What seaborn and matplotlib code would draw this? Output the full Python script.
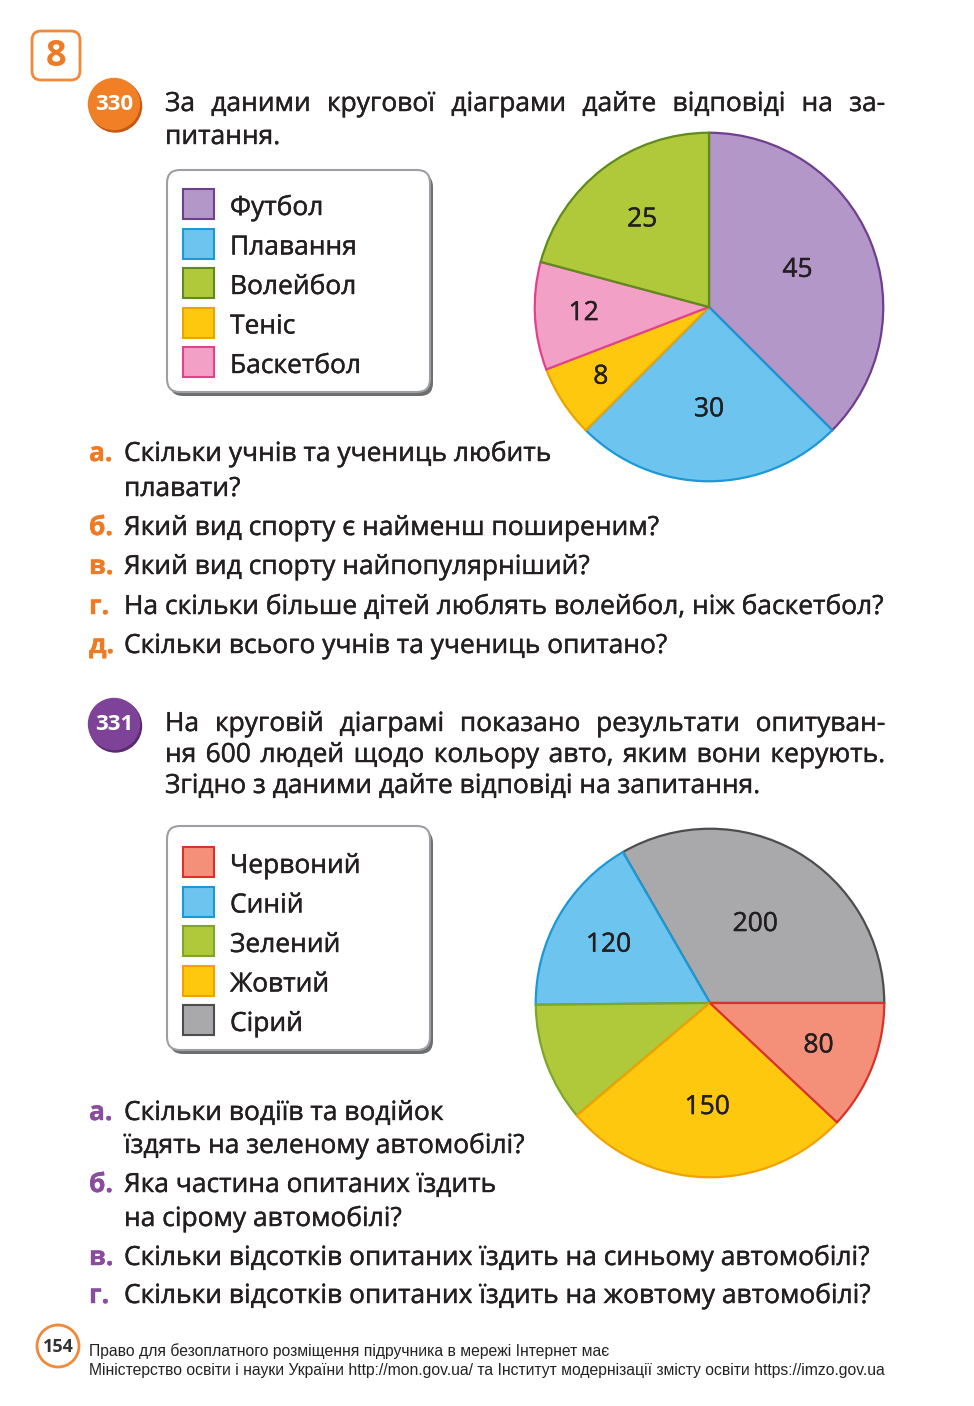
# Сторінка підручника: дві кругові діаграми (задачі 330 і 331)
import matplotlib
matplotlib.use("Agg")
import matplotlib.pyplot as plt
import matplotlib.patheffects as pe
from matplotlib.patches import FancyBboxPatch, Circle, Rectangle
import numpy as np
import seaborn as sns

sns.set_theme(style="white")
plt.rcParams['font.family'] = ['Open Sans', 'DejaVu Sans']

# Задача 330 - улюблений вид спорту
sports = ['Футбол', 'Плавання', 'Волейбол', 'Теніс', 'Баскетбол']
sport_counts = [45, 30, 25, 8, 12]
sport_colors = ['#b497c9', '#6dc4ee', '#afc93b', '#fdc80e', '#f2a0c6']
sport_edges = ['#6e3f8e', '#1c98d6', '#5f8a1c', '#e9a400', '#e2418c']
# порядок секторів на діаграмі (за годинниковою стрілкою від верху)
sport_pie_order = ['Футбол', 'Плавання', 'Теніс', 'Баскетбол', 'Волейбол']

# Задача 331 - колір авто (600 людей)
cars = ['Червоний', 'Синій', 'Зелений', 'Жовтий', 'Сірий']
car_labels = ['80', '120', '', '150', '200']
# розмір секторів так, як вони намальовані (із 600)
car_shares = [72, 101, 66, 161, 200]
car_colors = ['#f4907a', '#6dc4ee', '#afc93b', '#fdc80e', '#a9a9ab']
car_edges = ['#d8322a', '#1c98d6', '#7fa52a', '#f2a200', '#4d4d4f']
# проти годинникової стрілки від горизонталі праворуч
car_pie_order = ['Сірий', 'Синій', 'Зелений', 'Жовтий', 'Червоний']

text_color = '#231f20'
orange = '#ee7a24'
purple = '#8a4c9d'
body_size = 19
bold_fx = [pe.withStroke(linewidth=0.3, foreground=text_color)]

W, H = 974, 1406
fig = plt.figure(figsize=(W / 100, H / 100), dpi=100)
fig.patch.set_facecolor('white')
page = fig.add_axes([0, 0, 1, 1])
page.set_xlim(0, W)
page.set_ylim(H, 0)
page.axis('off')
renderer = fig.canvas.get_renderer()


def txt(x, y, s, color=text_color, size=body_size, **kw):
    t = page.text(x, y, s, color=color, fontsize=size, va='baseline', **kw)
    t.set_path_effects([pe.withStroke(linewidth=0.3, foreground=color)])
    return t


def justify(x0, x1, y, line):
    words = line.split()
    items = [txt(0, y, w) for w in words]
    widths = [t.get_window_extent(renderer).width for t in items]
    gap = (x1 - x0 - sum(widths)) / (len(words) - 1)
    x = x0
    for t, w in zip(items, widths):
        t.set_x(x)
        x += w + gap


def badge(cx, cy, label, color, shade):
    page.add_patch(Circle((cx + 1.5, cy + 2), 26, color=shade, zorder=2))
    page.add_patch(Circle((cx, cy), 25.5, color=color, zorder=3))
    page.text(cx, cy + 1, label, color='white', fontsize=16, fontweight='bold',
              ha='center', va='center', zorder=4)


def legend_box(x0, y0, x1, y1, names, colors, edges, first_base):
    page.add_patch(FancyBboxPatch((x0 + 3, y0 + 4), x1 - x0, y1 - y0,
                                  boxstyle='round,pad=0,rounding_size=13',
                                  fc='#6d6e70', ec='none', zorder=1))
    page.add_patch(FancyBboxPatch((x0, y0), x1 - x0, y1 - y0,
                                  boxstyle='round,pad=0,rounding_size=13',
                                  fc='white', ec='#9d9fa2', lw=1.5, zorder=2))
    for i, (name, c, e) in enumerate(zip(names, colors, edges)):
        base = first_base + i * 39.5
        page.add_patch(Rectangle((x0 + 16, base - 26), 31, 30, fc=c, ec=e,
                                 lw=1.5, zorder=3))
        txt(x0 + 63, base, name, zorder=3)


def draw_pie(cx, cy, r, values, colors, edges, labels, radii, start, clockwise):
    ax = fig.add_axes([(cx - r) / W, 1 - (cy + r) / H, 2 * r / W, 2 * r / H])
    wedges, _ = ax.pie(values, colors=colors, startangle=start,
                       counterclock=not clockwise,
                       wedgeprops=dict(linewidth=1.6))
    for w, e in zip(wedges, edges):
        w.set_edgecolor(e)
    for w, lab, rr in zip(wedges, labels, radii):
        mid = np.deg2rad((w.theta1 + w.theta2) / 2)
        ax.text(rr * np.cos(mid), rr * np.sin(mid), lab, ha='center',
                va='center', fontsize=body_size, color=text_color,
                path_effects=bold_fx)
    ax.set_xlim(-1.01, 1.01)
    ax.set_ylim(-1.01, 1.01)
    ax.set_aspect('equal')
    ax.axis('off')


# заголовок розділу
page.add_patch(FancyBboxPatch((32, 31), 48, 49, boxstyle='round,pad=0,rounding_size=9',
                              fc='white', ec='#f0893a', lw=2))
page.text(56, 57, '8', color=orange, fontsize=26, fontweight='bold',
          ha='center', va='center')

# ---- задача 330
badge(114, 104, '330', '#f07f26', '#c65713')
justify(165, 885, 111, 'За даними кругової діаграми дайте відповіді на за-')
txt(165, 144, 'питання.')
legend_box(167, 170, 430, 392, sports, sport_colors, sport_edges, 215)

idx = [sports.index(s) for s in sport_pie_order]
draw_pie(709, 307, 176, [sport_counts[i] for i in idx],
         [sport_colors[i] for i in idx], [sport_edges[i] for i in idx],
         [str(sport_counts[i]) for i in idx], [0.55, 0.59, 0.74, 0.72, 0.63],
         90, True)

q330 = [('а.', 461, 'Скільки учнів та учениць любить'),
        ('', 496, 'плавати?'),
        ('б.', 535, 'Який вид спорту є найменш поширеним?'),
        ('в.', 574, 'Який вид спорту найпопулярніший?'),
        ('г.', 614, 'На скільки більше дітей люблять волейбол, ніж баскетбол?'),
        ('д.', 653, 'Скільки всього учнів та учениць опитано?')]
for letter, y, s in q330:
    if letter:
        txt(89, y, letter, color=orange, fontweight='bold')
    txt(124, y, s)

# ---- задача 331
badge(114, 724, '331', '#7e4398', '#5a2a70')
justify(165, 885, 731, 'На круговій діаграмі показано результати опитуван-')
justify(165, 885, 762, 'ня 600 людей щодо кольору авто, яким вони керують.')
txt(165, 793, 'Згідно з даними дайте відповіді на запитання.')
legend_box(167, 826, 430, 1050, cars, car_colors, car_edges, 873)

idx = [cars.index(c) for c in car_pie_order]
draw_pie(710, 1003, 176, [car_shares[i] for i in idx],
         [car_colors[i] for i in idx], [car_edges[i] for i in idx],
         [car_labels[i] for i in idx], [0.52, 0.67, 0.6, 0.6, 0.67],
         0, False)

q331 = [('а.', 1120, 'Скільки водіїв та водійок'),
        ('', 1153, 'їздять на зеленому автомобілі?'),
        ('б.', 1192, 'Яка частина опитаних їздить'),
        ('', 1226, 'на сірому автомобілі?'),
        ('в.', 1265, 'Скільки відсотків опитаних їздить на синьому автомобілі?'),
        ('г.', 1303, 'Скільки відсотків опитаних їздить на жовтому автомобілі?')]
for letter, y, s in q331:
    if letter:
        txt(89, y, letter, color=purple, fontweight='bold')
    txt(124, y, s)

# ---- нижній колонтитул
page.add_patch(Circle((58, 1346), 21, fc='white', ec='#f0893a', lw=2))
page.text(58, 1347, '154', color='#333333', fontsize=13, fontweight='bold',
          ha='center', va='center')
foot = ['Право для безоплатного розміщення підручника в мережі Інтернет має',
        'Міністерство освіти і науки України http://mon.gov.ua/ та Інститут модернізації змісту освіти https://imzo.gov.ua']
foot_items = [page.text(89, y, s, color='#222222', fontsize=12, va='baseline',
                        family=['Liberation Sans Narrow', 'Liberation Sans', 'DejaVu Sans'])
              for y, s in zip([1356, 1375], foot)]
# підгонка ширини другого рядка до 795 px
scale = 795 / foot_items[1].get_window_extent(renderer).width
for t in foot_items:
    t.set_fontsize(12 * scale)

fig.savefig('out.png', dpi=100)
